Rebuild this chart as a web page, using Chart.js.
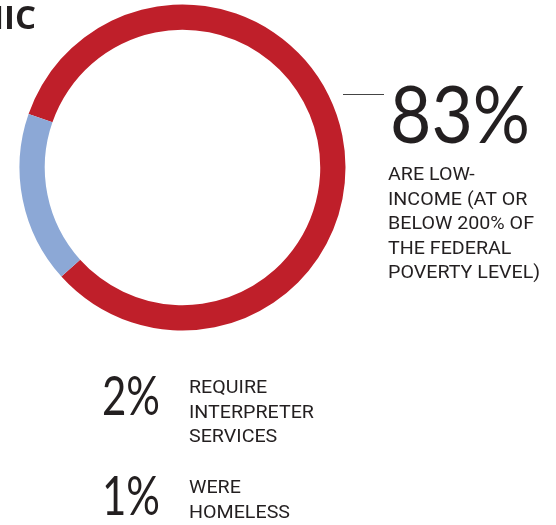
<!DOCTYPE html>
<html lang="en">
<head>
    <meta charset="UTF-8">
    <title>Patient profile</title>
    <script src="https://cdn.jsdelivr.net/npm/chart.js"></script>
    <style>
        html, body { margin: 0; padding: 0; background: #fff; }
        canvas { display: block; }
    </style>
</head>
<body>
    <canvas id="ringChart" width="556" height="525"></canvas>
    <script>
        // ring segments: share of patients that are low-income vs. the rest
        const segmentLabels = ['Low-income', 'Other'];
        const segmentValues = [83, 17];

        // headline figures and the caption lines next to them
        const statValues = [segmentValues[0], 2, 1];
        const statCaptions = [
            ['ARE LOW-', 'INCOME (AT OR', 'BELOW 200% OF', 'THE FEDERAL', 'POVERTY LEVEL)'],
            ['REQUIRE', 'INTERPRETER', 'SERVICES'],
            ['WERE', 'HOMELESS']
        ];
        const headingText = 'CLINIC';

        const RED = '#bf1f2a';
        const BLUE = '#8ca8d6';
        const INK = '#231f20';
        const numFont = '"Lato", "Open Sans", sans-serif';
        const capFont = '"Liberation Sans Narrow", "Roboto", sans-serif';

        // draw text squeezed horizontally by sx
        function drawText(ctx, text, x, y, sx) {
            ctx.save();
            ctx.translate(x, y);
            ctx.scale(sx, 1);
            ctx.fillText(text, 0, 0);
            ctx.restore();
        }

        // draw text scaled horizontally to a given width
        function drawFit(ctx, text, x, y, w) {
            drawText(ctx, text, x, y, w / ctx.measureText(text).width);
        }

        const annotations = {
            id: 'annotations',
            afterDraw(chart) {
                const ctx = chart.ctx;
                ctx.save();
                ctx.fillStyle = INK;
                ctx.textBaseline = 'alphabetic';

                // cut-off heading in the top-left corner
                ctx.font = 'bold 33px "Open Sans", sans-serif';
                ctx.textAlign = 'right';
                ctx.fillText(headingText, 36, 29);
                ctx.textAlign = 'left';

                // leader from the ring to the big figure
                ctx.strokeStyle = '#444';
                ctx.lineWidth = 1;
                ctx.beginPath();
                ctx.moveTo(343, 94.5);
                ctx.lineTo(384, 94.5);
                ctx.stroke();

                // big figures
                ctx.font = '80px ' + numFont;
                drawFit(ctx, statValues[0] + '%', 390, 143, 140);
                ctx.font = '55px ' + numFont;
                drawFit(ctx, statValues[1] + '%', 102, 415, 58);
                drawFit(ctx, statValues[2] + '%', 102, 515, 58);

                // captions
                ctx.font = '19px ' + capFont;
                const capSx = 146 / ctx.measureText('BELOW 200% OF').width;
                const blocks = [
                    { x: 388, y: 180 },
                    { x: 189, y: 393 },
                    { x: 189, y: 493 }
                ];
                blocks.forEach((b, i) => {
                    statCaptions[i].forEach((line, j) => {
                        drawText(ctx, line, b.x, b.y + j * 24.5, capSx);
                    });
                });
                ctx.restore();
            }
        };

        new Chart(document.getElementById('ringChart'), {
            type: 'doughnut',
            data: {
                labels: segmentLabels,
                datasets: [{
                    data: segmentValues,
                    backgroundColor: [RED, BLUE],
                    borderWidth: 0
                }]
            },
            options: {
                responsive: false,
                animation: false,
                cutout: '84.5%',
                rotation: -70.8,
                layout: {
                    padding: { left: 19.5, top: 4.5, right: 210.5, bottom: 194.5 }
                },
                plugins: {
                    legend: { display: false },
                    tooltip: { enabled: false }
                }
            },
            plugins: [annotations]
        });
    </script>
</body>
</html>
